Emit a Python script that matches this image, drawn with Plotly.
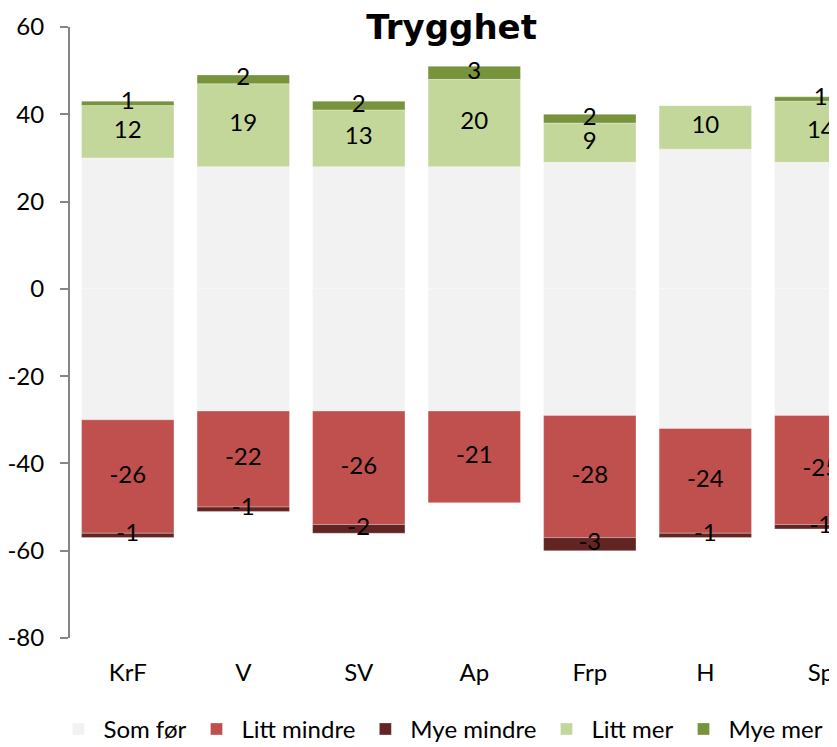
import plotly.graph_objects as go

categories = ["KrF", "V", "SV", "Ap", "Frp", "H", "Sp"]
som_for = [60, 56, 56, 56, 58, 64, 58]          # total "Som før", split around 0
litt_mindre = [26, 22, 26, 21, 28, 24, 25]
mye_mindre = [1, 1, 2, 0, 3, 1, 1]
litt_mer = [12, 19, 13, 20, 9, 10, 14]
mye_mer = [1, 2, 2, 3, 2, 0, 1]
y_ticks = [-80, -60, -40, -20, 0, 20, 40, 60]
y_tick_labels = ["-80", "-60", "-40", "-20", "0", "20", "40", "60"]

FONT = "Lato, 'Open Sans', sans-serif"
TFONT = "'DejaVu Sans', Lato, sans-serif"
C_SOM = "#F2F2F2"
C_LMI = "#C0504D"
C_MMI = "#632523"
C_LME = "#C4D79B"
C_MME = "#77933C"

half = [v / 2 for v in som_for]

fig = go.Figure()
line = dict(color="rgba(255,255,255,0.6)", width=0.5)
fig.add_bar(x=categories, y=half, name="Som før", marker=dict(color=C_SOM, line=line),
            legendgroup="som", showlegend=True)
fig.add_bar(x=categories, y=[-h for h in half], name="Som før", marker=dict(color=C_SOM, line=line),
            legendgroup="som", showlegend=False)
fig.add_bar(x=categories, y=[-v for v in litt_mindre], name="Litt mindre",
            marker=dict(color=C_LMI, line=line))
fig.add_bar(x=categories, y=[-v for v in mye_mindre], name="Mye mindre",
            marker=dict(color=C_MMI, line=line))
fig.add_bar(x=categories, y=litt_mer, name="Litt mer", marker=dict(color=C_LME, line=line))
fig.add_bar(x=categories, y=mye_mer, name="Mye mer", marker=dict(color=C_MME, line=line))

# value labels centred in each segment
def add_labels(ys, vals, neg):
    xs, yy, tt = [], [], []
    for c, y, v in zip(categories, ys, vals):
        if v == 0:
            continue
        xs.append(c)
        yy.append(y)
        tt.append(str(-v if neg else v))
    fig.add_trace(go.Scatter(x=xs, y=yy, text=tt, mode="text", showlegend=False,
                             textfont=dict(family=FONT, size=24, color="black"),
                             hoverinfo="skip", cliponaxis=True))

add_labels([-h - v / 2 for h, v in zip(half, litt_mindre)], litt_mindre, True)
add_labels([-h - a - v / 2 for h, a, v in zip(half, litt_mindre, mye_mindre)], mye_mindre, True)
add_labels([h + v / 2 for h, v in zip(half, litt_mer)], litt_mer, False)
add_labels([h + a + v / 2 for h, a, v in zip(half, litt_mer, mye_mer)], mye_mer, False)

# the page body adds an 8px offset, so margins are shifted to compensate
fig.update_layout(
    width=837, height=747,
    barmode="relative", bargap=0.2,
    plot_bgcolor="white", paper_bgcolor="white",
    margin=dict(l=62, r=8, t=19, b=117, autoexpand=False),
    font=dict(family=FONT, size=24, color="black"),
    title=dict(text="<b>Trygghet</b>", x=0.53, xanchor="center", y=0.974, yanchor="middle",
               font=dict(family=TFONT, size=34, color="black")),
    legend=dict(orientation="h", x=-0.0216, xanchor="left", y=-0.1127, yanchor="top",
                itemwidth=40, font=dict(family=FONT, size=24), traceorder="normal"),
    showlegend=True,
)
fig.update_xaxes(range=[-0.5, 6.14], showline=False, ticks="", ticklabelstandoff=18,
                 automargin=False, tickfont=dict(family=FONT, size=24))
fig.update_yaxes(range=[-80, 60], tickvals=y_ticks, ticktext=y_tick_labels,
                 showgrid=False, zeroline=False, automargin=False,
                 showline=True, linecolor="#868686", linewidth=2,
                 ticks="outside", ticklen=8, tickcolor="#868686", tickwidth=2,
                 ticklabelstandoff=11, tickfont=dict(family=FONT, size=24))

fig.write_html("out.html")
